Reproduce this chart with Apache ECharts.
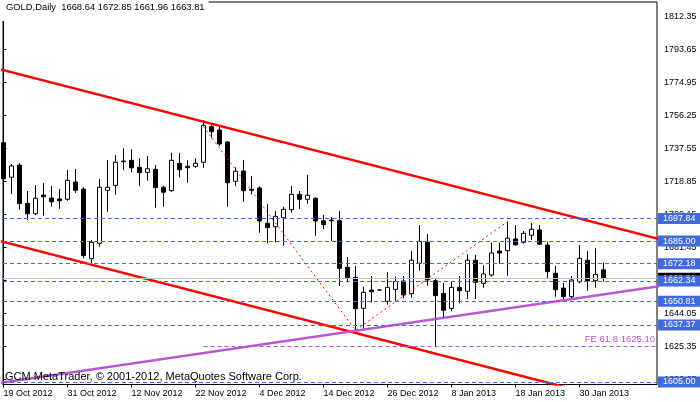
<!DOCTYPE html>
<html><head><meta charset="utf-8">
<script src="https://cdn.jsdelivr.net/npm/echarts@6/dist/echarts.min.js"></script>
<style>html,body{margin:0;padding:0;background:#fff}#c{width:700px;height:402px}</style>
</head><body><div id="c"></div>
<script>
const symbolName = 'GOLD,Daily';
const copyrightText = 'GCM MetaTrader, \u00a9 2001-2012, MetaQuotes Software Corp.';
const dates = ['19 Oct 2012','22 Oct 2012','23 Oct 2012','24 Oct 2012','25 Oct 2012','26 Oct 2012','29 Oct 2012','30 Oct 2012',
'31 Oct 2012','1 Nov 2012','2 Nov 2012','5 Nov 2012','6 Nov 2012','7 Nov 2012','8 Nov 2012','9 Nov 2012',
'12 Nov 2012','13 Nov 2012','14 Nov 2012','15 Nov 2012','16 Nov 2012','19 Nov 2012','20 Nov 2012','21 Nov 2012',
'22 Nov 2012','23 Nov 2012','26 Nov 2012','27 Nov 2012','28 Nov 2012','29 Nov 2012','30 Nov 2012','3 Dec 2012',
'4 Dec 2012','5 Dec 2012','6 Dec 2012','7 Dec 2012','10 Dec 2012','11 Dec 2012','12 Dec 2012','13 Dec 2012',
'14 Dec 2012','17 Dec 2012','18 Dec 2012','19 Dec 2012','20 Dec 2012','21 Dec 2012','24 Dec 2012','25 Dec 2012',
'26 Dec 2012','27 Dec 2012','28 Dec 2012','31 Dec 2012','2 Jan 2013','3 Jan 2013','4 Jan 2013','7 Jan 2013',
'8 Jan 2013','9 Jan 2013','10 Jan 2013','11 Jan 2013','14 Jan 2013','15 Jan 2013','16 Jan 2013','17 Jan 2013',
'18 Jan 2013','21 Jan 2013','22 Jan 2013','23 Jan 2013','24 Jan 2013','25 Jan 2013','28 Jan 2013','29 Jan 2013',
'30 Jan 2013','31 Jan 2013','1 Feb 2013','4 Feb 2013'];
const opens = [1740.8,1721.2,1728.1,1706.4,1700.5,1711.1,1709.4,1708.9,1708.7,1718.5,
1714.5,1675.0,1683.7,1713.8,1716.6,1730.0,1730.8,1726.8,1724.0,1725.7,
1715.5,1713.6,1729.1,1727.4,1727.4,1729.7,1749.9,1748.0,1741.2,1718.9,
1724.7,1714.4,1715.1,1695.1,1693.1,1698.2,1702.8,1711.5,1708.7,1709.3,
1696.5,1696.9,1696.5,1670.1,1664.4,1646.8,1657.2,1657.2,1650.8,1657.6,
1662.3,1655.1,1672.4,1684.3,1662.5,1655.3,1646.8,1658.7,1656.5,1674.1,
1661.0,1665.7,1679.3,1679.5,1686.2,1684.3,1688.3,1691.3,1682.7,1666.7,
1658.3,1653.4,1661.9,1674.1,1662.5,1668.64];
const closes = [1720.4,1727.6,1706.2,1700.5,1709.3,1710.2,1707.3,1707.9,1719.5,1713.8,
1676.7,1684.3,1715.5,1715.5,1729.7,1730.4,1726.6,1723.8,1726.0,1715.3,
1712.7,1730.8,1725.5,1726.6,1729.1,1750.7,1747.0,1740.1,1718.1,1724.6,
1713.6,1713.8,1696.4,1692.6,1699.0,1703.0,1711.5,1708.7,1711.0,1696.4,
1694.3,1696.5,1669.5,1664.2,1646.6,1655.9,1656.2,1657.2,1658.7,1662.1,
1654.4,1674.1,1684.8,1662.9,1654.0,1645.7,1658.7,1656.8,1674.1,1661.6,
1666.3,1678.2,1678.2,1686.6,1682.9,1689.4,1691.7,1683.2,1667.6,1657.4,
1653.4,1662.9,1675.2,1662.3,1666.1,1663.81];
const lows = [1714.9,1711.7,1702.8,1696.9,1699.8,1699.4,1704.5,1703.3,1707.9,1712.3,
1675.2,1672.4,1681.8,1701.6,1711.3,1725.3,1724.0,1716.2,1719.3,1703.9,
1704.5,1713.0,1721.0,1718.1,1726.6,1726.6,1743.3,1738.9,1704.5,1716.2,
1707.3,1711.5,1689.7,1683.7,1684.3,1682.4,1701.1,1703.2,1706.2,1688.0,
1691.8,1685.0,1659.5,1661.6,1634.3,1635.2,1650.2,1657.2,1648.9,1651.1,
1652.5,1652.8,1668.2,1659.7,1624.8,1641.7,1645.1,1649.7,1652.1,1652.1,
1658.5,1664.8,1672.1,1665.3,1682.4,1683.5,1685.6,1682.7,1663.5,1653.4,
1651.1,1651.5,1661.0,1656.8,1658.5,1661.96];
const highs = [1742.3,1728.7,1729.3,1713.4,1716.8,1717.9,1716.2,1714.5,1725.3,1725.9,
1715.5,1685.6,1720.2,1731.0,1733.8,1737.6,1737.0,1732.0,1733.3,1728.1,
1716.4,1735.1,1735.0,1730.8,1732.0,1753.7,1751.2,1750.8,1741.8,1726.8,
1731.0,1721.9,1716.1,1706.0,1702.0,1704.5,1716.2,1713.4,1722.5,1709.8,
1699.8,1698.5,1702.0,1675.9,1670.8,1659.1,1665.2,1657.2,1667.4,1664.8,
1665.2,1679.3,1694.1,1689.0,1663.5,1661.2,1661.8,1665.2,1677.5,1677.1,
1671.2,1684.1,1684.1,1696.0,1694.1,1690.7,1695.1,1694.1,1684.6,1671.0,
1661.2,1665.2,1682.7,1679.3,1680.9,1672.85];
const xTickLabels = ['19 Oct 2012','31 Oct 2012','12 Nov 2012','22 Nov 2012','4 Dec 2012','14 Dec 2012','26 Dec 2012','8 Jan 2013','18 Jan 2013','30 Jan 2013'];
const yTickLabels = [1606.65,1625.35,1644.05,1662.75,1681.45,1700.15,1718.85,1737.55,1756.25,1774.95,1793.65,1812.35];
const levelLines = [1697.84,1685.00,1672.18,1662.34,1650.81,1637.37,1605.00];
const bidPrice = 1663.81;
const upperChannel = [[-1,1783.2],[82,1686.1]];
const lowerChannel = [[-1,1685.7],[82,1588.2]];
const supportLine = [[-1,1604.15],[82,1659.4]];
const fePoints = [[25,1750.0],[44,1634.3],[63,1696.0]];
const feLevel = 1625.10;
const feRatio = '61.8';

const FONT = 'Liberation Sans, Arial, sans-serif';
const xMin = -0.0625, xMax = 81.6875;
const last = dates.length - 1;
const header = symbolName + '  ' + [opens[last], highs[last], lows[last], closes[last]].map(v => v.toFixed(2)).join(' ');
const candleData = dates.map((d, i) => [i, opens[i], closes[i], lows[i], highs[i]]);
const xTickPos = xTickLabels.map(d => dates.indexOf(d));

const chart = echarts.init(document.getElementById('c'), null, {renderer: 'canvas'});
chart.setOption({
  animation: false,
  backgroundColor: '#fff',
  title: [
    {text: header, left: 2, top: 0, padding: [3, 4, 9, 4], backgroundColor: '#fff', z: 10,
     textStyle: {fontSize: 9.4, fontWeight: 'normal', color: '#000', fontFamily: FONT}},
    {text: copyrightText, left: 5, top: 371, padding: 0, z: 10,
     textStyle: {fontSize: 11, fontWeight: 'normal', color: '#000', fontFamily: FONT}}
  ],
  grid: {left: 3, right: 43, top: 2, bottom: 17.5, show: true, borderColor: '#000', borderWidth: 1,
         backgroundColor: '#fff', containLabel: false, outerBoundsMode: 'none'},
  xAxis: {
    type: 'value', min: xMin, max: xMax, position: 'bottom',
    axisLine: {show: true, lineStyle: {color: '#000', width: 1}},
    axisTick: {show: true, length: 3, customValues: xTickPos, lineStyle: {color: '#000'}},
    axisLabel: {show: true, customValues: xTickPos, formatter: v => dates[Math.round(v)] || '',
      align: 'left', margin: 5, fontSize: 9, color: '#000', fontFamily: FONT},
    splitLine: {show: false}
  },
  yAxis: {
    type: 'value', min: 1603.58, max: 1820.66, position: 'right', scale: true,
    axisLine: {show: true, lineStyle: {color: '#000', width: 1}},
    axisTick: {show: true, length: 3, customValues: yTickLabels, lineStyle: {color: '#000'}},
    axisLabel: {show: true, customValues: yTickLabels, formatter: v => v.toFixed(2),
      margin: 7, fontSize: 9, color: '#000', fontFamily: FONT},
    splitLine: {show: false}
  },
  series: [
    {
      type: 'line', name: 'levels', data: [], z: 1, silent: true,
      markLine: {
        silent: true, symbol: ['none', 'none'], animation: false,
        lineStyle: {color: '#4169E1', type: [4, 3], width: 1},
        label: {show: true, position: 'end', distance: 1, formatter: p => Number(p.value).toFixed(2),
          color: '#fff', backgroundColor: '#4169E1', padding: [1, 5, 0, 5], fontSize: 9, lineHeight: 10, fontFamily: FONT},
        data: [{yAxis: bidPrice, lineStyle: {color: '#c0c0c0', type: 'solid', width: 1}, label: {backgroundColor: '#000'}}]
          .concat(levelLines.map(v => ({yAxis: v})))
      }
    },
    {
      type: 'candlestick', name: 'GOLD', data: candleData, z: 3, barWidth: 4, clip: true,
      encode: {x: 0, y: [1, 2, 3, 4]},
      itemStyle: {color: '#fff', color0: '#000', borderColor: '#000', borderColor0: '#000', borderWidth: 1}
    },
    {type: 'line', data: upperChannel, symbol: 'none', z: 4, clip: true, lineStyle: {color: '#ff0000', width: 2.5}},
    {type: 'line', data: lowerChannel, symbol: 'none', z: 4, clip: true, lineStyle: {color: '#ff0000', width: 2.5}},
    {type: 'line', data: supportLine, symbol: 'none', z: 4, clip: true, lineStyle: {color: '#BA55D3', width: 2.5}},
    {type: 'line', data: fePoints, symbol: 'none', z: 4, clip: true, lineStyle: {color: '#ff0000', width: 1, type: [2, 3]}},
    {
      type: 'line', name: 'FE', data: [], z: 2, silent: true,
      markLine: {
        silent: true, symbol: ['none', 'none'], animation: false,
        lineStyle: {color: '#BA55D3', type: [4, 3], width: 1},
        label: {show: true, position: 'insideEndTop', distance: 2, color: '#BA55D3', fontSize: 9.5, fontFamily: FONT,
          formatter: 'FE ' + feRatio + ' ' + feLevel.toFixed(2)},
        data: [[{coord: [fePoints[0][0], feLevel]}, {coord: [xMax, feLevel]}]]
      }
    }
  ]
});
</script>
</body></html>
